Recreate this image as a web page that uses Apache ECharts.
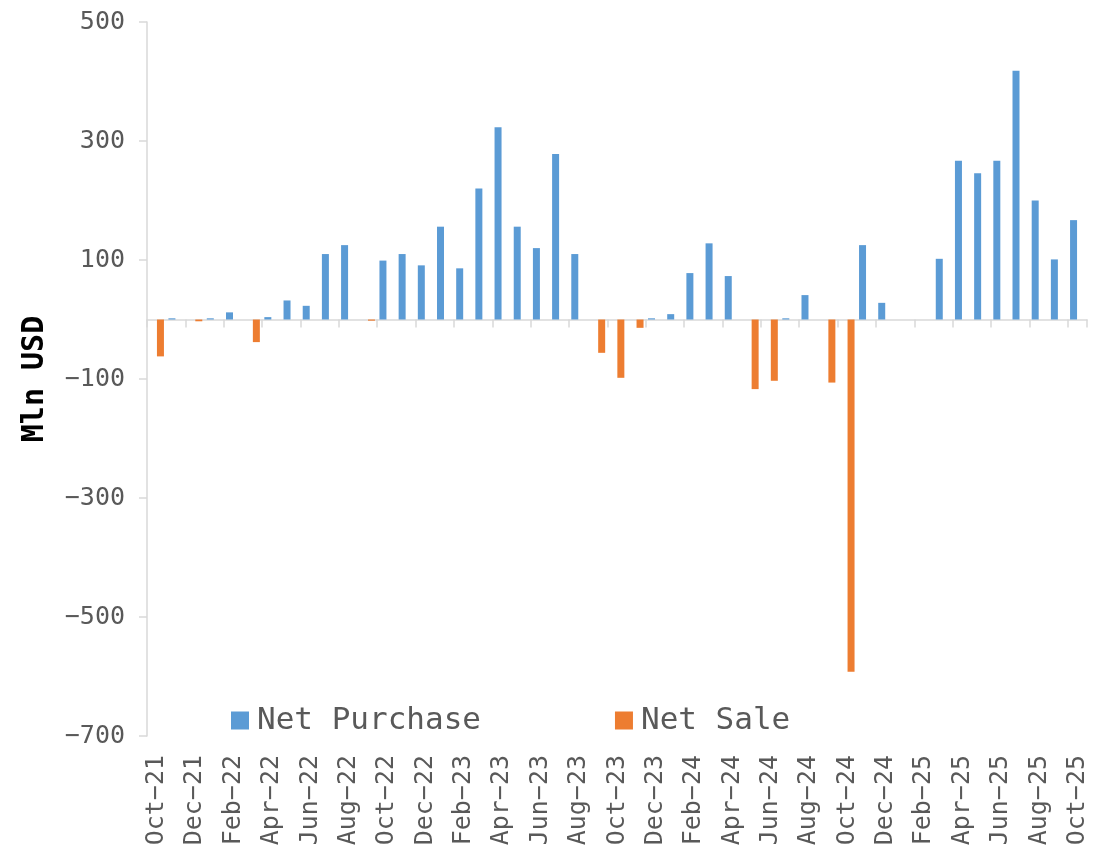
<!DOCTYPE html>
<html>
<head>
<meta charset="utf-8">
<script src="https://cdn.jsdelivr.net/npm/echarts@6/dist/echarts.min.js"></script>
<style>
  html, body { margin: 0; padding: 0; background: #fff; }
  #chart { width: 1120px; height: 851px; }
</style>
</head>
<body>
<div id="chart"></div>
<script>
const months = [
  "Oct-21", "Nov-21", "Dec-21", "Jan-22", "Feb-22", "Mar-22", "Apr-22", "May-22", "Jun-22",
  "Jul-22", "Aug-22", "Sep-22", "Oct-22", "Nov-22", "Dec-22", "Jan-23", "Feb-23", "Mar-23",
  "Apr-23", "May-23", "Jun-23", "Jul-23", "Aug-23", "Sep-23", "Oct-23", "Nov-23", "Dec-23",
  "Jan-24", "Feb-24", "Mar-24", "Apr-24", "May-24", "Jun-24", "Jul-24", "Aug-24", "Sep-24",
  "Oct-24", "Nov-24", "Dec-24", "Jan-25", "Feb-25", "Mar-25", "Apr-25", "May-25", "Jun-25",
  "Jul-25", "Aug-25", "Sep-25", "Oct-25"
];

// Mln USD
const netPurchase = [
  0, 2, 0, 2, 12, 0, 4, 32, 23,
  110, 125, 0, 99, 110, 91, 156, 86, 220,
  323, 156, 120, 278, 110, 0, 0, 0, 2,
  9, 78, 128, 73, 0, 0, 2, 41, 0,
  0, 125, 28, 0, 0, 102, 267, 246, 267,
  418, 200, 101, 167
];

const netSale = [
  -62, 0, -3, 0, 0, -38, 0, 0, 0,
  0, 0, -2, 0, 0, 0, 0, 0, 0,
  0, 0, 0, 0, 0, -56, -98, -14, 0,
  0, 0, 0, 0, -117, -103, 0, 0, -106,
  -592, 0, 0, 0, 0, 0, 0, 0, 0,
  0, 0, 0, 0
];

const yTicks = { min: -700, max: 500, interval: 200 };

const font = "'DejaVu Sans Mono', monospace";
const labelColor = "#595959";
const axisGray = "#d9d9d9";

// the reference uses a real minus sign in labels
const minus = (s) => String(s).replace(/-/g, "\u2212");

const chart = echarts.init(document.getElementById("chart"));

chart.setOption({
  animation: false,
  textStyle: { fontFamily: font },
  grid: { left: 147, right: 33, top: 22, bottom: 115 },
  legend: {
    data: ["Net Purchase", "Net Sale"],
    left: 231,
    top: 705,
    padding: 0,
    icon: "rect",
    itemWidth: 18,
    itemHeight: 18,
    itemGap: 134,
    textStyle: { fontFamily: font, fontSize: 31, color: labelColor, padding: [0, 0, 0, 3] }
  },
  xAxis: [
    {
      // axis line across zero with tick marks
      type: "category",
      data: months,
      position: "bottom",
      axisLine: { onZero: true, lineStyle: { color: axisGray, width: 1.5 } },
      axisTick: { show: true, interval: 1, length: 8, lineStyle: { color: axisGray, width: 1.5 } },
      axisLabel: { show: false },
      splitLine: { show: false }
    },
    {
      // labels along the bottom
      type: "category",
      data: months,
      position: "bottom",
      axisLine: { show: false, onZero: false },
      axisTick: { show: false },
      axisLabel: {
        interval: 1,
        rotate: 90,
        margin: 19,
        fontFamily: font,
        fontSize: 25,
        color: labelColor,
        formatter: minus
      },
      splitLine: { show: false }
    }
  ],
  yAxis: {
    type: "value",
    min: yTicks.min,
    max: yTicks.max,
    interval: yTicks.interval,
    name: "Mln USD",
    nameLocation: "middle",
    nameGap: 97,
    nameTextStyle: { fontFamily: font, fontSize: 30, fontWeight: "bold", color: "#000" },
    axisLine: { show: true, lineStyle: { color: axisGray, width: 1.5 } },
    axisTick: { show: true, length: 8, lineStyle: { color: axisGray, width: 1.5 } },
    axisLabel: { margin: 22, fontFamily: font, fontSize: 25, color: labelColor, formatter: minus },
    splitLine: { show: false }
  },
  series: [
    {
      name: "Net Purchase",
      type: "bar",
      xAxisIndex: 0,
      data: netPurchase,
      barWidth: 7,
      barGap: "10%",
      itemStyle: { color: "#5B9BD5" }
    },
    {
      name: "Net Sale",
      type: "bar",
      xAxisIndex: 0,
      data: netSale,
      barWidth: 7,
      barGap: "10%",
      itemStyle: { color: "#ED7D31" }
    }
  ]
});

window.addEventListener("resize", () => chart.resize());
</script>
</body>
</html>
